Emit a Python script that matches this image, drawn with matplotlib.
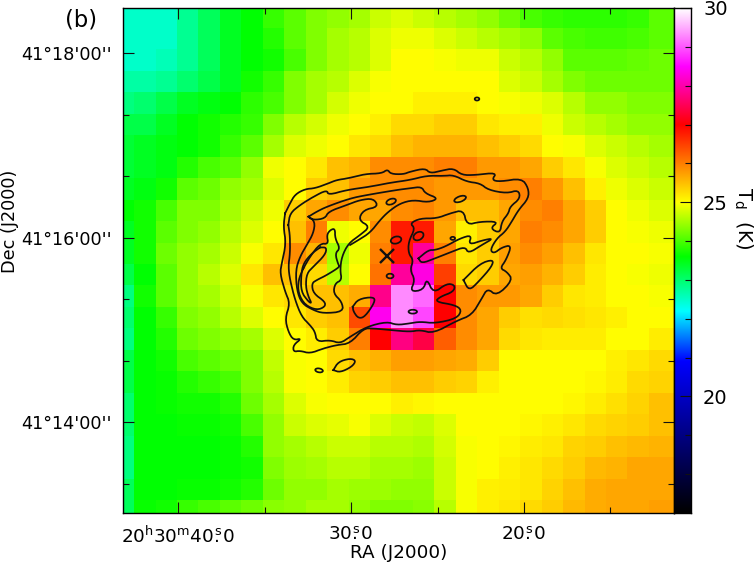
import matplotlib
matplotlib.use("Agg")
import matplotlib.pyplot as plt
import numpy as np
from matplotlib.colors import LinearSegmentedColormap
from matplotlib.patches import Ellipse

# dust temperature map (K), one row per map pixel, north at the top, east on the left
temp_rows = [
    [22.5,22.5,22.5,22.8,23.1,23.4,23.6,23.9,24.1,24.3,24.4,24.5,24.7,24.8,24.7,24.6,24.5,24.4,24.2,24.0,23.9,23.85,23.85,23.85,23.9,24.1],
    [22.5,22.5,22.5,22.8,23.1,23.4,23.6,23.8,24.1,24.3,24.5,24.6,24.8,24.9,24.9,24.8,24.7,24.6,24.5,24.4,24.1,24.0,23.95,23.95,24.0,24.1],
    [22.5,22.5,22.6,22.8,23.1,23.4,23.6,23.7,24.0,24.3,24.5,24.6,24.8,25.0,25.0,24.95,24.9,24.9,24.7,24.6,24.4,24.1,24.1,24.1,24.15,24.2],
    [22.7,22.7,22.8,23.0,23.2,23.4,23.7,23.9,24.3,24.5,24.6,24.8,24.95,25.0,25.0,25.0,25.0,25.0,24.8,24.7,24.5,24.3,24.2,24.2,24.2,24.2],
    [22.9,23.0,23.2,23.4,23.5,23.6,23.85,24.0,24.3,24.5,24.75,24.9,25.0,25.0,25.1,25.1,25.1,25.0,24.95,24.9,24.8,24.6,24.4,24.4,24.3,24.3],
    [23.2,23.2,23.4,23.6,23.7,23.8,23.9,24.3,24.6,24.75,24.9,25.0,25.1,25.3,25.3,25.4,25.4,25.2,25.1,25.1,24.9,24.7,24.6,24.5,24.4,24.4],
    [23.3,23.4,23.5,23.6,23.7,23.9,24.1,24.5,24.8,24.9,25.0,25.2,25.3,25.5,25.6,25.6,25.6,25.5,25.4,25.3,25.0,24.95,24.8,24.7,24.6,24.5],
    [23.3,23.4,23.5,23.8,24.0,24.1,24.4,24.9,25.0,25.2,25.5,25.6,25.9,25.9,25.9,26.0,26.0,25.8,25.8,25.7,25.4,25.2,24.95,24.8,24.7,24.6],
    [23.4,23.5,23.7,24.1,24.2,24.4,24.5,24.8,25.0,25.4,25.5,25.8,25.9,25.9,25.9,25.8,25.8,25.8,25.9,26.0,25.8,25.5,25.1,24.9,24.8,24.7],
    [23.6,23.7,24.0,24.3,24.3,24.5,24.7,24.9,25.4,25.7,25.9,25.7,25.7,25.9,25.95,25.8,25.5,25.5,25.7,25.9,26.0,25.7,25.4,25.0,24.9,24.8],
    [23.4,23.7,24.1,24.3,24.4,24.6,24.8,25.0,25.5,26.0,24.9,25.0,25.9,26.8,26.8,25.7,25.1,25.4,25.7,26.0,25.9,25.7,25.4,25.0,24.95,24.9],
    [23.4,23.7,24.2,24.4,24.5,24.7,24.95,25.2,25.9,25.6,24.5,24.9,26.0,26.8,27.9,26.0,25.2,25.4,25.75,25.9,25.75,25.5,25.2,25.0,25.0,24.95],
    [23.2,23.6,24.1,24.4,24.6,24.8,25.2,25.5,25.5,25.3,24.6,25.0,26.1,27.9,28.3,26.5,25.3,25.4,25.7,25.75,25.6,25.4,25.15,25.0,24.95,24.9],
    [22.9,23.7,24.1,24.4,24.5,24.7,24.95,25.2,25.3,25.5,25.5,25.65,27.8,29.3,29.1,27.0,25.9,25.8,25.8,25.7,25.4,25.2,25.15,25.0,25.0,24.95],
    [23.0,23.6,23.9,24.3,24.4,24.6,24.8,25.0,25.2,25.4,25.5,26.4,28.4,29.3,28.9,27.0,25.9,25.7,25.4,25.25,25.3,25.25,25.2,25.1,25.0,25.0],
    [22.9,23.6,23.8,24.2,24.3,24.4,24.5,24.8,25.0,25.15,25.4,26.0,27.0,27.75,27.4,26.25,25.9,25.7,25.3,25.2,25.15,25.15,25.15,25.0,25.0,25.15],
    [23.2,23.6,23.7,24.0,24.1,24.2,24.3,24.65,24.95,25.0,25.3,25.5,25.6,25.75,25.75,25.7,25.65,25.4,25.0,25.0,25.0,25.0,25.0,25.1,25.2,25.3],
    [23.2,23.6,23.65,23.8,23.9,24.0,24.3,24.6,24.95,25.0,25.15,25.35,25.4,25.5,25.5,25.4,25.35,25.1,25.0,25.0,25.0,25.0,25.05,25.15,25.3,25.35],
    [23.0,23.6,23.65,23.7,23.7,23.8,24.2,24.5,24.8,24.95,25.0,25.0,25.0,25.1,25.05,25.0,25.0,25.0,25.0,25.0,25.0,25.05,25.15,25.25,25.35,25.5],
    [23.0,23.6,23.6,23.65,23.65,23.7,24.0,24.4,24.7,24.8,24.85,24.95,24.8,24.7,24.65,24.8,25.0,25.0,25.0,25.05,25.1,25.2,25.3,25.35,25.4,25.5],
    [22.9,23.6,23.6,23.6,23.6,23.65,23.8,24.4,24.5,24.6,24.7,24.7,24.6,24.6,24.55,24.75,24.95,25.0,25.05,25.15,25.2,25.35,25.4,25.5,25.55,25.6],
    [22.9,23.6,23.6,23.6,23.6,23.65,23.7,24.3,24.45,24.5,24.6,24.6,24.5,24.5,24.45,24.7,24.95,25.0,25.1,25.2,25.3,25.4,25.55,25.6,25.7,25.7],
    [23.1,23.6,23.6,23.65,23.65,23.7,23.8,24.2,24.4,24.4,24.5,24.45,24.45,24.4,24.4,24.7,24.95,25.1,25.15,25.2,25.35,25.5,25.65,25.7,25.7,25.7],
    [23.1,23.65,23.7,23.9,24.0,24.1,24.2,24.35,24.4,24.5,24.5,24.4,24.3,24.3,24.35,24.6,24.95,25.1,25.2,25.3,25.4,25.55,25.65,25.7,25.7,25.75],
]

# contours, offsets in arcsec from 20:30:30 +41:16:00 (east positive)
c1_ra = [42.9,39.7,36.4,29.9,23.4,14.7,9.3,1.7,-9.1,-20,-23.7,-25.9,-34.1,-38.4,-48.2,-51.5,-59.1,-66.7,-72.1,-80.8,-94.9,-91.6,-97,-111.1,-115.5,-115.5,-109,-104.6,-100.3,-94.9,-90.5,-93.1,-98.1,-104.6,-100.9,-97,-101.4,-105.3,-94.9,-88.8,-85.1,-78.6,-68.8,-53.6,-45,-38.4,-25.4,-14.6,-8.1,.6,9.3,18,26.7,33.2,37.5,37.5,32.1,37.5,40.8,42.9,39.7,42.9,46.2,45.1,42.3,44,42.9]
c1_dec = [15.9,22.4,28.2,31.7,32.2,35.4,37.6,38.7,41.5,41.9,44.5,41.5,41.3,43,45.2,41.9,43.7,45.2,40.8,40.8,42.4,37.6,36.5,38.7,32.2,25.6,18.1,10.5,3.9,-.4,-8,-10.2,-6.3,-4.7,-14.5,-19.9,-22.1,-27.5,-37.9,-32.9,-39.5,-50.3,-54,-62.2,-60,-61.2,-60,-59,-59,-68.8,-69.8,-72,-75.3,-73.5,-74.2,-69.8,-65.5,-66.6,-61.2,-52.5,-42.7,-35.1,-23.2,-16.7,-3.7,7.2,15.9]
c2_ra = [40.8,39.7,33.2,24.5,15.8,14.7,2.8,-12.4,-25.4,-38.4,-49.3,-60.1,-66.7,-75.3,-84,-89.4,-101.4,-109,-110.1,-103.5,-102.5,-98.1,-97,-90.5,-96,-84,-75.3,-73.2,-64.5,-55.8,-45,-38.4,-41.7,-37.4,-37.4,-40.6,-38.4,-41.7,-38.4,-47.1,-49.3,-53.6,-62.3,-67.7,-66.7,-58,-54.7,-67.7,-72.1,-68.8,-54.7,-45,-38.4,-29.8,-23.3,-10.2,.6,7.1,13.6,22.3,23.4,26.7,32.1,36.4,39.7,40.8,39.7,39.7,40.8]
c2_dec = [8.3,15.9,21.3,26.7,31.1,27.8,31.1,33.2,35.8,37.6,40.4,40.2,40.8,36.5,35.4,31.1,28.9,31.1,25.6,20.2,15.9,10.5,2.9,6.1,10.5,10.5,8.3,18.1,15.9,12.6,12.6,9.4,6.1,-2.6,-10.2,-14.5,-21,-27.5,-35.1,-34,-26.4,-36.2,-29.7,-30.8,-35.1,-38.4,-41.6,-43.8,-47.1,-52.5,-55.7,-54.6,-55.7,-56.8,-54.6,-57.9,-64.4,-68.8,-66.6,-67.7,-61.2,-56.8,-51.4,-40.5,-27.5,-18.8,-10.2,.7,8.3]
c3_ra = [27.7,22.3,15.8,.6,-10.2,-29.8,-38.4,-46,-48.2,-56.9,-50.4,-40.6,-32,-24.3,-18.9,-12.4,-4.8,.6]
c3_dec = [13.7,17,20.2,25.6,27.8,31.1,32.2,33.2,28.9,25.6,23,24.6,22.4,17,11.5,3.3,-1.5,-4.7]
c4_ra = [27.7,23.4,24.5,28.8,33.2,36,35.3,32.1,24.5,18,5,6,11.5,10.4,6,7.1,6,1.7,-5.9,-12.4,-4.8,-8.1,-17.8,-14.6,-5.9,2.8,14.7,16.9,24.5,27.7]
c4_dec = [13.7,10.5,2.9,-4.7,-12.3,-21,-34,-42.7,-47.1,-49.2,-48.1,-41.6,-36.2,-29.7,-27.5,-21,-12.3,-3.7,1.8,7.2,11.5,18.1,20.2,25.6,24.6,21.3,17,12.6,11.5,13.7]
c5_ra = [31,26.7,20.1,14.7,15.8,13.6,10.4,10.4,7.1,10.4,8.2,7.1,15.8,22.3,25.6,24.5,16.9,16.9,22.3,29.9,34.3,34.3,31]
c5_dec = [-19.9,-12.3,-3.7,-4.1,1.8,5,6.1,-.4,-6.9,-10.2,-17.8,-18.8,-24.3,-27.5,-29.7,-36.2,-41.6,-44.9,-47.1,-43.8,-36.2,-27.5,-19.9]
c6_ra = [20.1,25.6,31,32.5,32.5,27.7,25.6,27.7,29.5,28.8,24.5,16.9,15.8,20.1]
c6_dec = [-6.3,-10.2,-16.7,-24.3,-35.1,-41.6,-42.7,-38.4,-31.9,-23.2,-18.8,-11.2,-6.3,-6.3]
isl_a_ra = [-43.9,-50.4,-54.7,-61.2,-71,-78.6,-76.4,-86.2,-92.7,-85.1,-76.4,-74.2,-65.6,-54.7,-46,-43.9]
isl_a_dec = [-13.4,-8,-8,-5.8,-.4,1.8,-4.7,-1.5,-.4,-4.7,-10.2,-5.8,-9.1,-13.4,-16.7,-13.4]
isl_b_ra = [-73.2,-84,-92.7,-91.6,-83,-76.8,-73.2]
isl_b_dec = [-27.5,-16.7,-14.1,-18.8,-28.6,-34.5,-27.5]
isl_c_ra = [-1.1,-4.8,-14.6,-15.7,-9.1,-4.8,-1.6,-1.1]
isl_c_dec = [-44.9,-39.9,-38.4,-41.6,-51.4,-52.5,-48.1,-44.9]
isl_d_ra = [11.5,8.2,.6,-3.3,-.5,7.1,11.5]
isl_d_dec = [-86.1,-80.7,-78.5,-80,-84,-87.6,-86.1]

# small closed contours: ra, dec, width, height, angle
small_blobs = [
    (20.8, -86.3, 5.0, 2.5, 10),
    (-26.1, 23.5, 6.5, 3.5, -20),
    (-29.3, -1.5, 7.0, 4.5, -15),
    (-43.9, 1.1, 7.0, 5.0, -30),
    (-71.0, 25.2, 8.0, 3.5, -20),
    (-66.2, -0.4, 3.0, 2.0, 0),
    (-25.4, -24.9, 4.5, 3.0, 0),
    (-40.2, -48.1, 5.5, 2.5, 0),
    (-82.0, 90.3, 3.0, 2.0, 0),
]
source_ra = -23.2
source_dec = -11.9

ra_major = [112.4, 0, -112.6]
ra_labels = [r"20$^{\rm h}$30$^{\rm m}$40$\overset{\rm s}{.}$0",
             r"30$\overset{\rm s}{.}$0", r"20$\overset{\rm s}{.}$0"]
ra_minor = [56.2, -56.3, -168.8]
dec_major = [120, 0, -120]
dec_labels = ["41°18'00''", "41°16'00''", "41°14'00''"]
dec_minor = [80, 40, -40, -80, -160]

# colour scale stops: temperature, colour
scale_temps = [17, 20.9, 22.2, 23.6, 25, 27, 28.5, 30]
scale_colors = ["black", "#0000ff", "#00ffff", "#00ff00", "#ffff00", "#ff0000", "#ff00ff", "#ffffff"]


# round the corners of a traced contour
def smooth(ra, dec, passes=2):
    pts = np.column_stack([ra, dec])
    for _ in range(passes):
        a, b = pts[:-1], pts[1:]
        pts = np.vstack([pts[0], np.column_stack([0.75 * a + 0.25 * b, 0.25 * a + 0.75 * b]).reshape(-1, 2), pts[-1]])
    return pts[:, 0], pts[:, 1]


t_min, t_max = 17, 30
stops = [(t - t_min) / (t_max - t_min) for t in scale_temps]
cmap = LinearSegmentedColormap.from_list("temp", list(zip(stops, scale_colors)), N=512)

temp = np.array(temp_rows)
cell = 13.96
x_edges = 155.16 - cell * np.arange(temp.shape[1] + 1)
x_edges[-1] = -215
y_edges = 150.46 - cell * np.arange(temp.shape[0] + 1)

W, H = 754, 564
fig = plt.figure(figsize=(W / 100, H / 100), dpi=100)
ax = fig.add_axes([123 / W, 1 - 513 / H, 551 / W, 505 / H])
ax.pcolormesh(x_edges, y_edges, temp, cmap=cmap, vmin=t_min, vmax=t_max, shading="flat", antialiased=False)

# contours
for ra, dec in [(c1_ra, c1_dec), (c2_ra, c2_dec), (c3_ra, c3_dec), (c4_ra, c4_dec), (c5_ra, c5_dec),
                (c6_ra, c6_dec), (isl_a_ra, isl_a_dec), (isl_b_ra, isl_b_dec), (isl_c_ra, isl_c_dec),
                (isl_d_ra, isl_d_dec)]:
    sx, sy = smooth(ra, dec)
    ax.plot(sx, sy, color="#111111", lw=1.25)
for r, d, w, h, ang in small_blobs:
    ax.add_patch(Ellipse((r, d), w, h, angle=ang, fill=False, ec="#111111", lw=1.25))

ax.plot([source_ra], [source_dec], marker="x", ms=10.5, mew=1.7, color="#111111", ls="none")

ax.set_xlim(148.4, -210.2)
ax.set_ylim(-179.1, 149.5)
ax.set_aspect("auto")
ax.set_xticks(ra_major)
ax.set_xticklabels(ra_labels, fontsize=13.2)
ax.set_xticks(ra_minor, minor=True)
ax.set_yticks(dec_major)
ax.set_yticklabels(dec_labels, fontsize=12.7)
ax.set_yticks(dec_minor, minor=True)
ax.tick_params(which="major", direction="in", top=True, right=True, length=8, width=0.8, color="#111111")
ax.tick_params(which="minor", direction="in", top=True, right=True, length=4, width=0.8, color="#111111")
ax.tick_params(axis="x", which="major", pad=9)
ax.tick_params(axis="y", which="major", pad=8)
for s in ax.spines.values():
    s.set_linewidth(1.0)

# colour bar
cax = fig.add_axes([674 / W, 1 - 513 / H, 17.5 / W, 505 / H])
cax.imshow(np.linspace(t_max, t_min, 512).reshape(-1, 1), cmap=cmap, vmin=t_min, vmax=t_max,
           extent=[0, 1, t_min, t_max], aspect="auto")
cax.set_xticks([])
cax.yaxis.tick_right()
cax.set_yticks([20, 25, 30])
cax.set_yticklabels(["20", "25", "30"], fontsize=14)
cax.set_yticks(np.arange(18, 30), minor=True)
cax.tick_params(which="major", direction="in", length=8, width=0.8, pad=8.3, color="#111111")
cax.tick_params(which="minor", direction="in", length=4, width=0.8, color="#111111")
for s in cax.spines.values():
    s.set_linewidth(1.0)

fig.text(81 / W, 1 - 20 / H, "(b)", fontsize=16.3, ha="center", va="center")
fig.text(399 / W, 1 - 553 / H, "RA (J2000)", fontsize=13.2, ha="center", va="center")
fig.text(10 / W, 1 - 221 / H, "Dec (J2000)", fontsize=12.7, rotation=90, ha="center", va="center")
fig.text(743 / W, 1 - 218 / H, r"T$_{\rm d}$  (K)", fontsize=14, rotation=270, ha="center", va="center")

fig.savefig("out.png", dpi=100)
